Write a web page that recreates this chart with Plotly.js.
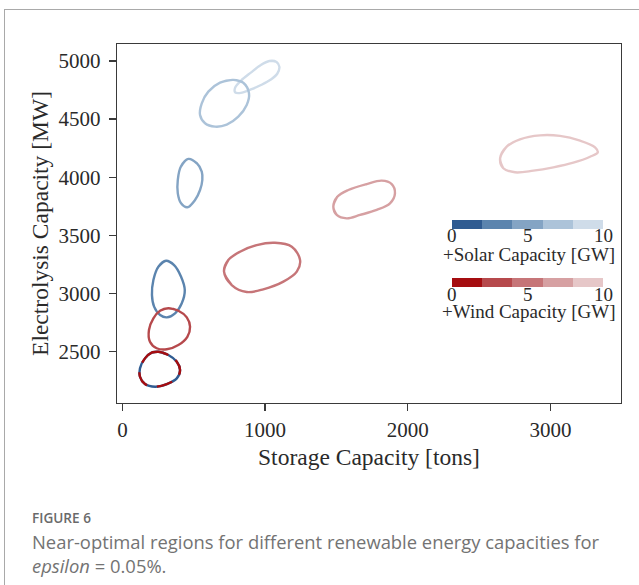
<!DOCTYPE html>
<html>
<head>
<meta charset="utf-8">
<script src="https://cdn.plot.ly/plotly-3.0.1.min.js"></script>
<style>
  html, body { margin: 0; padding: 0; background: #ffffff; }
  #wrap { position: relative; width: 639px; height: 585px; overflow: hidden; }
  #chart { position: absolute; left: 0; top: 0; width: 639px; height: 585px; }
  #card { position: absolute; left: 4px; top: 9px; width: 700px; height: 700px;
          border-left: 1.5px solid #a9a9a9; border-top: 1.5px solid #a9a9a9; pointer-events: none; }
</style>
</head>
<body>
<div id="wrap">
  <div id="chart"></div>
  <div id="card"></div>
</div>
<script>
// ---- Data (storage [tons], electrolysis [MW]) ----
// Added capacity levels [GW] for each contour
const solarLevels = [0, 2.5, 5, 7.5, 10];
const windLevels  = [0, 2.5, 5, 7.5, 10];

// Base case (+0 GW), shared by both series
const base0X = [252, 322, 381, 404, 381, 311, 229, 158, 123, 123, 158, 205];
const base0Y = [2498, 2470, 2412, 2341, 2269, 2220, 2197, 2220, 2283, 2355, 2441, 2490];

// Solar contours
const solar1X = [306, 362, 411, 437, 416, 369, 311, 264, 222, 207, 217, 252];
const solar1Y = [3281, 3244, 3144, 3029, 2915, 2829, 2794, 2814, 2886, 2986, 3115, 3230];
const solar2X = [462, 521, 556, 560, 544, 509, 455, 411, 388, 388, 409];
const solar2Y = [4157, 4120, 4047, 3976, 3890, 3804, 3741, 3775, 3861, 3976, 4090];
const solar3X = [777, 847, 887, 871, 812, 731, 649, 579, 544, 556, 602, 684];
const solar3Y = [4837, 4813, 4722, 4621, 4521, 4452, 4435, 4464, 4535, 4636, 4736, 4813];
const solar4X = [1030, 1080, 1100, 1085, 1040, 975, 900, 830, 790, 790, 830, 900, 970];
const solar4Y = [5000, 4992, 4950, 4890, 4840, 4795, 4755, 4725, 4730, 4770, 4830, 4900, 4965];

// Wind contours
const wind1X = [322, 392, 451, 474, 455, 392, 311, 240, 193, 186, 217, 264];
const wind1Y = [2872, 2851, 2794, 2713, 2627, 2556, 2519, 2528, 2584, 2685, 2786, 2851];
const wind2X = [712, 742, 824, 941, 1069, 1187, 1245, 1222, 1128, 987, 871, 766];
const wind2Y = [3187, 3287, 3359, 3416, 3436, 3402, 3287, 3187, 3101, 3035, 3012, 3072];
const wind3X = [1478, 1506, 1583, 1712, 1817, 1887, 1910, 1875, 1782, 1665, 1572, 1502];
const wind3Y = [3746, 3832, 3890, 3941, 3970, 3941, 3861, 3775, 3718, 3675, 3646, 3675];
const wind4X = [2647, 2693, 2786, 2927, 3066, 3207, 3312, 3331, 3277, 3160, 3020, 2880, 2751, 2669];
const wind4Y = [4163, 4263, 4326, 4360, 4355, 4314, 4257, 4214, 4176, 4125, 4085, 4056, 4042, 4077];

// Tick labels
const xTicks = [0, 1000, 2000, 3000];
const yTicks = [2500, 3000, 3500, 4000, 4500, 5000];
const barTicks = [0, 5, 10];

// ---- Styling ----
const solarColors = ['#2f5b91', '#5b84ae', '#84a4c4', '#acc3d9', '#cfdce9'];
const windColors  = ['#a50d10', '#b6494c', '#c67578', '#d6a0a2', '#e6c7c8'];
const serif = 'Liberation Serif, Times New Roman, serif';
const sans = 'Open Sans, Lato, sans-serif';
const axisColor = '#3a3a3a';
const textColor = '#2a2a2a';

function bandColor(colors, level) {
  const idx = Math.min(colors.length - 1, Math.floor(level / 10 * colors.length));
  return colors[idx];
}
function discreteScale(colors) {
  const n = colors.length, s = [];
  colors.forEach((c, i) => { s.push([i / n, c]); s.push([(i + 1) / n, c]); });
  return s;
}
// close the loop smoothly: wrap points around the start
function loop(arr) {
  const n = arr.length;
  return [arr[n - 1]].concat(arr, [arr[0], arr[1]]);
}
function contour(xs, ys, color, dash, name) {
  return {
    type: 'scatter', mode: 'lines', name: name,
    x: loop(xs), y: loop(ys),
    line: { color: color, width: 2.4, shape: 'spline', smoothing: 1, dash: dash || 'solid' },
    hoverinfo: 'skip', showlegend: false
  };
}

const solarSets = [[base0X, base0Y], [solar1X, solar1Y], [solar2X, solar2Y], [solar3X, solar3Y], [solar4X, solar4Y]];
const windSets  = [[base0X, base0Y], [wind1X, wind1Y], [wind2X, wind2Y], [wind3X, wind3Y], [wind4X, wind4Y]];

const traces = [];
for (let i = solarSets.length - 1; i >= 0; i--) {
  traces.push(contour(solarSets[i][0], solarSets[i][1], bandColor(solarColors, solarLevels[i]), 'solid', '+Solar ' + solarLevels[i] + ' GW'));
}
for (let i = windSets.length - 1; i >= 1; i--) {
  traces.push(contour(windSets[i][0], windSets[i][1], bandColor(windColors, windLevels[i]), 'solid', '+Wind ' + windLevels[i] + ' GW'));
}
// base contour drawn again in red with gaps, so blue and red alternate
traces.push(contour(base0X, base0Y, bandColor(windColors, windLevels[0]), '16px,10px', '+Wind 0 GW'));

// colour scales (bars only; their labels are annotations below)
const barX = 0.815, barLen = 0.3;
const solarBarTop = 0.511, windBarTop = 0.349;
function scaleTrace(colors, yTop) {
  return {
    type: 'scatter', mode: 'markers', x: [xTicks[0]], y: [yTicks[0]],
    hoverinfo: 'skip', showlegend: false,
    marker: {
      size: 1, opacity: 0, color: [0], cmin: 0, cmax: 10,
      colorscale: discreteScale(colors), showscale: true,
      colorbar: {
        orientation: 'h', x: barX, xanchor: 'center', y: yTop, yanchor: 'top',
        len: barLen, lenmode: 'fraction', thickness: 9, xpad: 0, ypad: 0,
        outlinewidth: 0, ticks: '', showticklabels: false, tickvals: barTicks,
        title: { text: '' }
      }
    }
  };
}
traces.push(scaleTrace(solarColors, solarBarTop));
traces.push(scaleTrace(windColors, windBarTop));

const axisCommon = {
  showgrid: false, zeroline: false, showline: true, mirror: true,
  linecolor: axisColor, linewidth: 1.3,
  ticks: 'outside', ticklen: 7, tickwidth: 1.3, tickcolor: axisColor,
  tickfont: { family: serif, size: 21, color: textColor }
};

const annotations = [];
function barLabels(yLab, yTitle, title) {
  barTicks.forEach(t => {
    annotations.push({ text: String(t), xref: 'paper', yref: 'paper',
      x: barX - barLen / 2 + barLen * t / 10, y: yLab, xanchor: 'center', yanchor: 'middle',
      showarrow: false, borderpad: 0, font: { family: serif, size: 19, color: textColor } });
  });
  annotations.push({ text: title, xref: 'paper', yref: 'paper', x: barX + 0.002, y: yTitle,
    xanchor: 'center', yanchor: 'middle', showarrow: false, borderpad: 0,
    font: { family: serif, size: 19, color: textColor } });
}
barLabels(0.4655, 0.4150, '+Solar Capacity [GW]');
barLabels(0.3035, 0.2550, '+Wind Capacity [GW]');

annotations.push(
  { text: 'FIGURE 6', xref: 'paper', yref: 'paper', x: -0.1732, y: -0.3186, xanchor: 'left', yanchor: 'middle',
    showarrow: false, font: { family: sans, size: 13.6, color: '#6a6a6a', weight: 600 } },
  { text: 'Near-optimal regions for different renewable energy capacities for', xref: 'paper', yref: 'paper',
    x: -0.1732, y: -0.3855, xanchor: 'left', yanchor: 'middle', showarrow: false,
    font: { family: sans, size: 18.4, color: '#737373' } },
  { text: '<i>epsilon</i> = 0.05%.', xref: 'paper', yref: 'paper',
    x: -0.1732, y: -0.4524, xanchor: 'left', yanchor: 'middle', showarrow: false,
    font: { family: sans, size: 18.4, color: '#737373' } }
);

const layout = {
  width: 639, height: 585,
  margin: { l: 117, r: 18, t: 44, b: 182 },
  paper_bgcolor: '#ffffff', plot_bgcolor: '#ffffff',
  xaxis: Object.assign({}, axisCommon, {
    range: [-38, 3494], tickvals: xTicks, ticktext: xTicks.map(String),
    title: { text: 'Storage Capacity [tons]', font: { family: serif, size: 23.5, color: textColor }, standoff: 8 }
  }),
  yaxis: Object.assign({}, axisCommon, {
    range: [2057, 5146], tickvals: yTicks, ticktext: yTicks.map(String), ticklabelstandoff: 4,
    title: { text: 'Electrolysis Capacity [MW]', font: { family: serif, size: 23.5, color: textColor }, standoff: 3 }
  }),
  annotations: annotations
};

Plotly.newPlot('chart', traces, layout, { displayModeBar: false, staticPlot: true });
</script>
</body>
</html>
